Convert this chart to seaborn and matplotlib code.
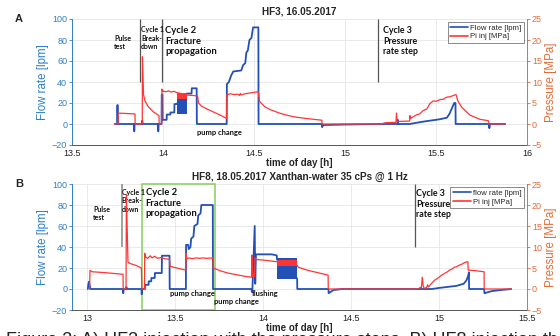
import numpy as np
import pandas as pd
import matplotlib
matplotlib.use("Agg")
import matplotlib.pyplot as plt
import matplotlib.patches as mpatches
from matplotlib.lines import Line2D
import seaborn as sns

# ---------------- HF3, 16.05.2017 ----------------
A_FLOW_T = [13.735, 13.748, 13.749, 13.751, 13.752, 13.841, 13.842, 13.844, 13.884, 13.885,
            13.887, 13.888, 13.973, 13.974, 13.976, 13.992, 13.993, 13.997, 13.998, 14.020,
            14.021, 14.040, 14.041, 14.062, 14.063, 14.075, 14.130, 14.157, 14.158, 14.185,
            14.186, 14.350, 14.351, 14.362, 14.374, 14.386, 14.430, 14.440, 14.452, 14.458,
            14.466, 14.475, 14.486, 14.495, 14.524, 14.525, 14.874, 14.875, 14.878, 15.000,
            15.200, 15.289, 15.290, 15.292, 15.356, 15.420, 15.480, 15.520, 15.560, 15.575,
            15.590, 15.600, 15.607, 15.608, 15.792, 15.793, 15.796, 15.880]
A_FLOW_V = [0, 0, 18, 18, 0, 0, -7, 0, 0, 3,
            3, 0, 0, -7, 0, 0, 28, 28, 4, 4,
            9, 9, 11, 11, 19, 19, 29, 29, 34, 34,
            0, 0, 38, 40, 46, 50, 51, 56, 58, 68,
            70, 80, 82, 92, 92, 0, 0, -3, -1, -0.5,
            0, 0, 4, 0, 0, 2, 3.5, 4.5, 6, 10,
            16, 20, 20, 0, 0, -4, 0, 0]
A_PRES_T = [13.735, 13.753, 13.754, 13.800, 13.846, 13.847, 13.886, 13.887, 13.893, 13.901,
            13.919, 13.947, 13.978, 13.979, 13.993, 13.994, 14.000, 14.020, 14.030, 14.045,
            14.060, 14.075, 14.130, 14.190, 14.195, 14.210, 14.240, 14.280, 14.320, 14.349,
            14.351, 14.370, 14.390, 14.410, 14.420, 14.425, 14.430, 14.450, 14.480, 14.524,
            14.530, 14.560, 14.590, 14.640, 14.680, 14.720, 14.790, 14.873, 14.874, 15.200,
            15.220, 15.280, 15.283, 15.286, 15.355, 15.357, 15.360, 15.370, 15.394, 15.410,
            15.430, 15.450, 15.467, 15.485, 15.500, 15.522, 15.540, 15.559, 15.580, 15.595,
            15.610, 15.620, 15.641, 15.687, 15.742, 15.787, 15.793, 15.880]
A_PRES_V = [0, 0, 2.6, 2.5, 2.4, 0, 0, 16, 7.0, 5.5,
            4.1, 2.9, 2.0, 0, 0, 8.3, 7.8, 7.7, 7.9, 7.6,
            7.8, 7.5, 6.9, 6.7, 5.0, 4.3, 3.6, 2.8, 2.0, 1.3,
            7.0, 7.2, 7.0, 7.1, 6.8, 7.3, 6.9, 7.2, 7.4, 7.7,
            5.4, 4.1, 3.4, 2.6, 2.1, 1.7, 1.3, 0.9, 0, 0,
            0.3, 0.4, 2.6, 0.6, 0.7, 2.0, 1.3, 1.6, 2.2, 2.4,
            3.2, 3.6, 4.9, 5.5, 5.4, 5.8, 5.9, 6.4, 6.5, 6.8,
            7.0, 5.5, 4.0, 2.1, 1.1, 0.8, 0, 0]
A_BLOCK_T = [14.075, 14.130]
A_BLOCK_Q = [10, 28]
A_BLOCK_P = [6.0, 7.3]
A_CYCLE_LINES = [13.876, 13.994, 15.182]

# ---------------- HF8, 18.05.2017 ----------------
B_FLOW_T = [13.005, 13.008, 13.012, 13.016, 13.020, 13.205, 13.206, 13.209, 13.222, 13.224,
            13.226, 13.310, 13.311, 13.314, 13.329, 13.330, 13.350, 13.351, 13.365, 13.366,
            13.385, 13.386, 13.425, 13.426, 13.469, 13.470, 13.562, 13.563, 13.575, 13.578,
            13.588, 13.592, 13.605, 13.610, 13.628, 13.632, 13.645, 13.650, 13.715, 13.716,
            13.935, 13.937, 13.940, 13.953, 13.956, 13.960, 14.050, 14.078, 14.080, 14.194,
            14.195, 14.372, 14.373, 14.400, 14.450, 14.960, 15.000, 15.050, 15.100, 15.140,
            15.155, 15.165, 15.170, 15.171, 15.257, 15.258, 15.300, 15.350, 15.410]
B_FLOW_V = [0, 5, 7, 3, 0, 0, -4, 0, 0, 2,
            0, 0, -5, 0, 0, 4, 4, 7.3, 7.3, 10.5,
            10.5, 15.2, 15.2, 31.7, 31.7, 0, 0, 42, 42, 38,
            40, 48, 50, 60, 62, 70, 72, 80, 80, 0,
            0, -3, 0, 60, 5, 33, 33, 32, 28, 10,
            0, 0, -4, -1, 0, 0, 1, 2, 3, 5,
            8, 12, 16, 0, 0, -4, -2, -1, 0]
B_PRES_T = [13.015, 13.017, 13.030, 13.100, 13.205, 13.206, 13.222, 13.224, 13.233, 13.243,
            13.280, 13.309, 13.312, 13.327, 13.328, 13.333, 13.345, 13.360, 13.370, 13.385,
            13.400, 13.420, 13.440, 13.469, 13.472, 13.520, 13.562, 13.563, 13.567, 13.580,
            13.600, 13.620, 13.640, 13.660, 13.680, 13.715, 13.717, 13.760, 13.800, 13.850,
            13.900, 13.935, 13.937, 13.941, 13.952, 13.955, 13.965, 14.000, 14.078, 14.194,
            14.200, 14.250, 14.300, 14.370, 14.371, 14.880, 14.895, 14.900, 14.905, 14.910,
            14.915, 14.930, 14.935, 14.940, 14.955, 14.975, 14.990, 15.003, 15.015, 15.030,
            15.045, 15.060, 15.075, 15.088, 15.100, 15.116, 15.130, 15.145, 15.164, 15.166,
            15.200, 15.256, 15.257, 15.410]
B_PRES_V = [0, 4.4, 4.1, 3.9, 3.5, 0, 0, 22.5, 6.4, 6.1,
            5.6, 5.0, 0, 0, 8.5, 7.6, 7.3, 7.9, 7.4, 7.8,
            7.3, 7.5, 7.2, 7.1, 5.4, 4.9, 4.5, 8.5, 7.2, 7.4,
            7.2, 7.4, 7.3, 7.4, 7.3, 7.4, 5.0, 4.3, 3.8, 3.4,
            3.0, 2.8, 8.1, 3.0, 3.0, 7.4, 7.0, 6.9, 6.5, 5.6,
            5.2, 4.5, 4.0, 3.3, 0, 0, 0.4, 0.3, 2.8, 0.8,
            0.2, 0.3, 1.0, 0.5, 1.2, 2.1, 2.5, 2.9, 3.3, 3.7,
            4.0, 4.5, 4.8, 5.2, 5.3, 5.7, 5.9, 6.3, 6.5, 4.5,
            4.4, 4.1, 0, 0]
B_BLOCK_T = [14.080, 14.194]
B_BLOCK_Q = [10, 30]
B_BLOCK_P = [5.5, 6.8]
B_CYCLE_LINES = [13.200, 14.866]
B_FRAME_T = [13.310, 13.725]

FLOW_C = "#2350b6"
PRES_C = "#ff3535"
LEFT_C = "#2f7fc8"
RIGHT_C = "#e26b34"

sns.set_theme(style="white")
plt.rcParams["font.family"] = ["Liberation Sans", "DejaVu Sans"]
NOTE_FONT = ["Lato", "DejaVu Sans"]

fig = plt.figure(figsize=(5.6, 3.36), dpi=100)
axA = fig.add_axes([72 / 560, 1 - 145 / 336, 455 / 560, 126 / 336])
axB = fig.add_axes([72 / 560, 1 - 310 / 336, 455 / 560, 126 / 336])


def draw_panel(ax, ft, fv, pt, pv, blk_t, blk_q, blk_p, xlim, xticks, title, names):
    ax2 = ax.twinx()
    dq = pd.DataFrame({"t": ft, "q": fv})
    dp = pd.DataFrame({"t": pt, "p": pv})
    sns.lineplot(data=dq, x="t", y="q", ax=ax, color=FLOW_C, lw=1.3,
                 sort=False, estimator=None, legend=False)
    ax.fill_between(blk_t, [blk_q[0]] * 2, [blk_q[1]] * 2, color=FLOW_C, lw=0)
    sns.lineplot(data=dp, x="t", y="p", ax=ax2, color=PRES_C, lw=0.9,
                 sort=False, estimator=None, legend=False)
    ax2.fill_between(blk_t, [blk_p[0]] * 2, [blk_p[1]] * 2, color=PRES_C, lw=0)

    ax.set_xlim(*xlim)
    ax.set_ylim(-20, 100)
    ax2.set_ylim(-5, 25)
    ax.set_xticks(xticks)
    ax.set_xticklabels([f"{x:g}" for x in xticks])
    ax.set_yticks(range(-20, 101, 20))
    ax2.set_yticks(range(-5, 26, 5))
    ax.grid(True, color="#e6e6e6", lw=0.6)
    ax.set_axisbelow(True)

    for a in (ax, ax2):
        a.spines["top"].set_visible(False)
    ax.spines["right"].set_visible(False)
    ax2.spines["left"].set_visible(False)
    ax2.spines["bottom"].set_visible(False)
    ax.spines["left"].set_color(LEFT_C)
    ax2.spines["right"].set_color(RIGHT_C)
    ax.spines["bottom"].set_color("#555555")
    for s in ("left", "bottom"):
        ax.spines[s].set_linewidth(0.7)
    ax2.spines["right"].set_linewidth(0.7)

    ax.tick_params(axis="y", colors=LEFT_C, labelsize=6.5, length=2, width=0.6, pad=1.5)
    ax.tick_params(axis="x", colors="#222222", labelsize=6.5, length=2, width=0.6, pad=1)
    ax2.tick_params(axis="y", colors=RIGHT_C, labelsize=6.5, length=2, width=0.6, pad=1.5)

    ax.set_xlabel("time of day [h]", fontsize=7, fontweight="bold", labelpad=0)
    ax.set_ylabel("Flow rate [lpm]", fontsize=8.3, color=LEFT_C, labelpad=2)
    ax2.set_ylabel("Pressure [MPa]", fontsize=8.3, color=RIGHT_C, labelpad=2)
    ax.set_title(title, fontsize=7.2, fontweight="bold", pad=3)

    handles = [Line2D([], [], color=FLOW_C, lw=1.2), Line2D([], [], color=PRES_C, lw=1.2)]
    leg = ax2.legend(handles, names, loc="upper right", fontsize=5.6, frameon=True,
                     fancybox=False, edgecolor="#333333", borderpad=0.3, labelspacing=0.15,
                     handlelength=2.3, handletextpad=0.3, borderaxespad=0.4)
    leg.get_frame().set_linewidth(0.5)
    return ax2


draw_panel(axA, A_FLOW_T, A_FLOW_V, A_PRES_T, A_PRES_V, A_BLOCK_T, A_BLOCK_Q, A_BLOCK_P,
           (13.5, 16.0), [13.5, 14, 14.5, 15, 15.5, 16], "HF3, 16.05.2017",
           ["Flow rate [lpm]", "Pi inj [MPa]"])
draw_panel(axB, B_FLOW_T, B_FLOW_V, B_PRES_T, B_PRES_V, B_BLOCK_T, B_BLOCK_Q, B_BLOCK_P,
           (12.915, 15.49), [13, 13.5, 14, 14.5, 15, 15.5],
           "HF8, 18.05.2017 Xanthan-water 35 cPs @ 1 Hz",
           ["flow rate [lpm]", "Pi inj [MPa]"])

# cycle boundaries
axA.vlines(A_CYCLE_LINES, 40, 100, colors="#555555", lw=0.9)
axB.vlines(B_CYCLE_LINES[0], 40, 100, colors="#a0a0a0", lw=1.4)
axB.vlines(B_CYCLE_LINES[1], 40, 100, colors="#555555", lw=0.9)
axB.add_patch(mpatches.Rectangle((B_FRAME_T[0], -20), B_FRAME_T[1] - B_FRAME_T[0], 120,
                                 fill=False, edgecolor="#8fd16a", lw=1.2, clip_on=False))


def note(ax, x, y, s, size, va="top"):
    ax.text(x, y, s, fontsize=size, fontweight="bold", family=NOTE_FONT, va=va, ha="left",
            linespacing=1.2, color="#111111")


note(axA, 13.731, 85, "Pulse\ntest", 5)
note(axA, 13.879, 93, "Cycle 1\nBreak-\ndown", 5)
note(axA, 14.011, 93, "Cycle 2\nFracture\npropagation", 6.8)
note(axA, 14.187, -8.5, "pump change", 5.4, va="center")
note(axA, 15.209, 93, "Cycle 3\nPressure\nrate step", 6.4)

note(axB, 13.034, 79, "Pulse\ntest", 5)
note(axB, 13.197, 95, "Cycle 1\nBreak-\ndown", 5)
note(axB, 13.333, 96, "Cycle 2\nFracture\npropagation", 6.8)
note(axB, 13.474, -4, "pump change", 5.4, va="center")
note(axB, 13.723, -12, "pump change", 5.4, va="center")
note(axB, 13.938, -4, "flushing", 5.4, va="center")
note(axB, 14.870, 95, "Cycle 3\nPressure\nrate step", 6.4)

fig.text(15 / 560, 1 - 19 / 336, "A", fontsize=8, fontweight="bold", va="center")
fig.text(15 / 560, 1 - 184 / 336, "B", fontsize=8, fontweight="bold", va="center")

fig.text(6 / 560, 1 - 332 / 336,
         "Figure 3: A) HF3 injection with the pressure steps. B) HF8 injection the",
         fontsize=13, va="top", ha="left", color="#222222")

fig.savefig("out.png", dpi=100)
